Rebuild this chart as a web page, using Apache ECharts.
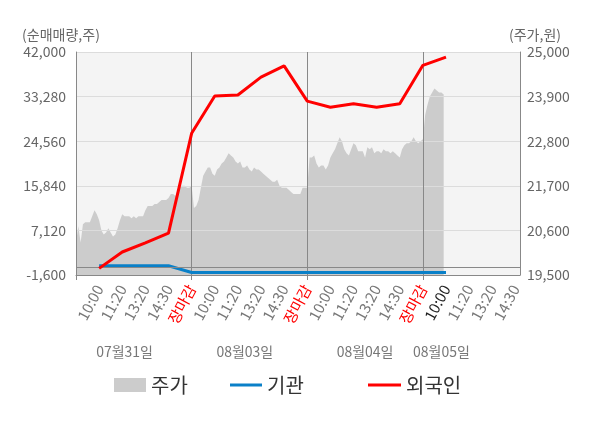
<!DOCTYPE html>
<html><head><meta charset="utf-8">
<script src="https://cdn.jsdelivr.net/npm/echarts@6/dist/echarts.min.js"></script>
<style>html,body{margin:0;padding:0;background:#fff}#c{width:600px;height:428px}</style>
</head><body><div id="c"></div>
<script>
// ---- data ----
const dayNames = ['07월31일', '08월03일', '08월04일', '08월05일'];
const slotLabels = ['10:00', '11:20', '13:20', '14:30', '장마감'];
const leftTicks = { min: -1600, max: 42000, interval: 8720 };
const rightTicks = { min: 19500, max: 25000, interval: 1100 };

// stock price (원), sampled evenly through each session
const priceDay1 = [20300,20700,20300,20750,20800,20800,20800,20950,21100,21000,
  20850,20600,20500,20550,20650,20550,20450,20500,20650,20850,
  21000,20950,20950,20950,20900,20950,20900,20950,20950,20950,
  21100,21200,21200,21200,21250,21250,21300,21350,21350,21350,
  21400,21500,21500,21450,21600,21700,21700,21700,21650,21650,21700];
const priceDay2 = [21150,21200,21350,21650,21950,22050,22150,22150,22000,21950,
  22100,22150,22250,22300,22400,22500,22450,22400,22300,22250,
  22300,22150,22150,22200,22100,22050,22150,22100,22100,22050,
  22000,21950,21900,21850,21800,21800,21850,21700,21650,21650,
  21650,21600,21550,21500,21500,21500,21500,21650,21650,21650];
const priceDay3 = [22400,22400,22450,22250,22150,22200,22200,22100,22200,22400,
  22500,22600,22750,22900,22800,22600,22500,22450,22600,22750,
  22700,22550,22550,22550,22400,22650,22600,22650,22500,22550,
  22550,22500,22600,22550,22550,22500,22550,22500,22450,22400,
  22600,22700,22750,22750,22800,22900,22800,22750,22800,22850];
const priceDay4 = [23450,23700,23900,24000,24100,24050,24000,24000,23950];

// net buying (주) at 10:00, 11:20, 13:20, 14:30, 장마감 of each day
const foreignNet = [-300, 2900, 4700, 6600, 26100, 33400, 33600, 37100, 39300,
  32400, 31200, 31900, 31200, 31900, 39400, 41000];
const institutionNet = [200, 200, 200, 200, -1100, -1100, -1100, -1100, -1100,
  -1100, -1100, -1100, -1100, -1100, -1100, -1100];

// ---- layout helpers ----
const STEP = 10;             // category steps between two labelled times
const DAY = STEP * 5;        // steps per session
const N = 193;               // category count across the axis
const dateLabelIdx = [21, 73, 125, 158];
const FONT = '"Noto Sans CJK KR", "Noto Sans", sans-serif';

const categories = [];
for (let i = 0; i < N; i++) {
  categories.push(i > 0 && i % STEP === 0 ? slotLabels[(i / STEP - 1) % 5] : '');
}
const price = [].concat(priceDay1, priceDay2, priceDay3, priceDay4);
function atSlots(arr) {
  const d = new Array(N).fill(null);
  arr.forEach((v, k) => { d[(k + 1) * STEP] = v; });
  return d;
}
const fmt = v => Number(v).toLocaleString('en-US');
const legendText = { fontSize: 20, color: '#333', fontFamily: FONT };

const chart = echarts.init(document.getElementById('c'), null, { renderer: 'canvas' });
chart.setOption({
  animation: false,
  textStyle: { fontFamily: FONT },
  grid: { left: 76, right: 80, top: 52, bottom: 153, show: true, backgroundColor: '#f4f4f4', borderWidth: 0, containLabel: false },
  legend: [
    { data: ['주가'], left: 114, top: 375, padding: 0, icon: 'rect', itemWidth: 32, itemHeight: 14,
      itemStyle: { borderWidth: 0 }, textStyle: legendText },
    { data: ['기관'], left: 230, top: 375, padding: 0, icon: 'rect', itemWidth: 32, itemHeight: 3,
      itemStyle: { borderWidth: 0 }, textStyle: legendText },
    { data: ['외국인'], left: 368, top: 375, padding: 0, icon: 'rect', itemWidth: 33, itemHeight: 3,
      itemStyle: { borderWidth: 0 }, textStyle: legendText }
  ],
  xAxis: [
    {
      type: 'category', data: categories, boundaryGap: false, z: 3,
      axisLine: { onZero: false, lineStyle: { color: '#888' } },
      axisTick: { show: true, interval: i => i % DAY === 0, length: 5, lineStyle: { color: '#888' } },
      splitLine: { show: true, interval: i => i % DAY === 0 && i > 0, lineStyle: { color: '#888', width: 1 } },
      axisLabel: {
        interval: i => i > 0 && i % STEP === 0, rotate: 62, margin: 11,
        fontSize: 15, color: '#777', fontFamily: FONT, hideOverlap: false,
        formatter: (v, i) => v === '장마감' ? '{r|' + v + '}' : (i === 16 * STEP ? '{d|' + v + '}' : v),
        rich: { r: { color: '#ff0000', fontSize: 15, fontFamily: FONT }, d: { color: '#222', fontSize: 15, fontFamily: FONT } }
      }
    },
    {
      type: 'category', data: categories, boundaryGap: false, position: 'bottom', offset: 70,
      axisLine: { show: false }, axisTick: { show: false }, splitLine: { show: false },
      axisLabel: {
        interval: i => dateLabelIdx.includes(i), margin: 0, fontSize: 14, color: '#777', fontFamily: FONT, hideOverlap: false,
        formatter: (v, i) => dayNames[dateLabelIdx.indexOf(i)] || ''
      }
    }
  ],
  yAxis: [
    {
      type: 'value', min: leftTicks.min, max: leftTicks.max, interval: leftTicks.interval, z: 3,
      name: '(순매매량,주)', nameLocation: 'end', nameGap: 10, nameMoveOverlap: false,
      nameTextStyle: { fontSize: 14, color: '#666', align: 'center', padding: [0, 30, 0, 0], fontFamily: FONT },
      axisLine: { show: true, lineStyle: { color: '#888' } }, axisTick: { show: false },
      splitLine: { show: true, lineStyle: { color: '#dcdcdc' } },
      axisLabel: { fontSize: 14, color: '#666', margin: 10, formatter: fmt, fontFamily: FONT }
    },
    {
      type: 'value', min: rightTicks.min, max: rightTicks.max, interval: rightTicks.interval, position: 'right',
      name: '(주가,원)', nameLocation: 'end', nameGap: 10, nameMoveOverlap: false,
      nameTextStyle: { fontSize: 14, color: '#666', align: 'center', padding: [0, 0, 0, 30], fontFamily: FONT },
      axisLine: { show: true, lineStyle: { color: '#888' } }, axisTick: { show: false },
      splitLine: { show: false },
      axisLabel: { fontSize: 14, color: '#666', margin: 7, formatter: fmt, fontFamily: FONT }
    }
  ],
  series: [
    {
      name: '주가', type: 'line', xAxisIndex: 0, yAxisIndex: 1, data: price, z: 2,
      symbol: 'none', showSymbol: false, itemStyle: { color: '#cccccc' },
      lineStyle: { width: 0, opacity: 0 }, areaStyle: { color: '#cccccc', opacity: 1 }
    },
    {
      name: '기관', type: 'line', xAxisIndex: 0, yAxisIndex: 0, data: atSlots(institutionNet), z: 4,
      connectNulls: true, symbol: 'none', showSymbol: false, itemStyle: { color: '#0a80c8' },
      lineStyle: { color: '#0a80c8', width: 3 },
      markLine: { silent: true, symbol: 'none', label: { show: false }, animation: false,
        lineStyle: { color: '#888', width: 1, type: 'solid' }, data: [{ yAxis: 0 }] }
    },
    {
      name: '외국인', type: 'line', xAxisIndex: 0, yAxisIndex: 0, data: atSlots(foreignNet), z: 5,
      connectNulls: true, symbol: 'none', showSymbol: false, itemStyle: { color: '#ff0000' },
      lineStyle: { color: '#ff0000', width: 3 }
    }
  ]
});
</script>
</body></html>
